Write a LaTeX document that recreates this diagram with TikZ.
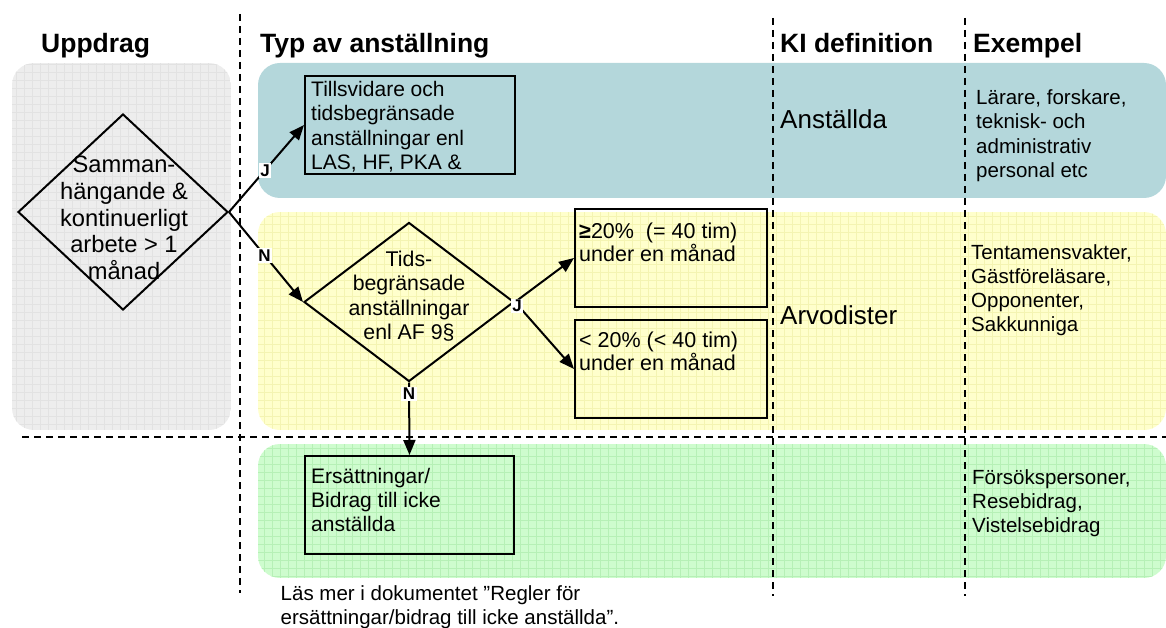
\documentclass[tikz,border=0pt]{standalone}
\usepackage{fontspec}
\setmainfont{Liberation Sans}
\usetikzlibrary{arrows.meta,positioning,shapes.geometric}
\definecolor{bandgray}{RGB}{237,237,237}
\definecolor{gridgray}{RGB}{226,226,226}
\definecolor{bandteal}{RGB}{180,215,219}
\definecolor{bandyellow}{RGB}{255,255,204}
\definecolor{gridyellow}{RGB}{244,244,178}
\definecolor{bandgreen}{RGB}{206,252,206}
\definecolor{gridgreen}{RGB}{182,240,182}
\tikzset{
  heading/.style = {font=\fontsize{26.5}{30}\selectfont\bfseries, anchor=base west, inner sep=0pt},
  category/.style = {font=\fontsize{26}{30}\selectfont, anchor=base west, inner sep=0pt},
  examples/.style = {font=\fontsize{20.5}{24.5}\selectfont, align=left, anchor=north west, inner sep=0pt},
  band/.style = {rounded corners=22pt},
  gridlines/.style = {step=8pt, line width=0.4pt},
  divider/.style = {dash pattern=on 7pt off 5pt, line width=1.6pt},
  decision/.style = {diamond, draw=black, line width=2pt, inner sep=0pt},
  decisiontext/.style = {align=center, inner sep=0pt},
  rulebox/.style = {rectangle, draw=black, line width=2pt, inner sep=0pt, minimum height=98pt},
  boxtext/.style = {font=\fontsize{21}{24.5}\selectfont, align=left, inner sep=0pt},
  flow/.style = {-{Triangle[length=15pt,width=12pt]}, line width=2pt},
  answer/.style = {fill=white, font=\fontsize{17}{17}\selectfont\bfseries, inner sep=1.5pt},
}
\begin{document}
\begin{tikzpicture}[x=1pt, y=-1pt]
  \useasboundingbox (0,0) rectangle (1166,628);

  % Background bands
  \fill[band, bandteal] (258,63) rectangle (1166,198);
  \foreach \xa/\ya/\xb/\yb/\bandcol/\gridcol in {12/63/231/430/bandgray/gridgray,
      258/212/1166/430/bandyellow/gridyellow, 258/444/1166/578/bandgreen/gridgreen}{
    \begin{scope}
      \clip[band] (\xa,\ya) rectangle (\xb,\yb);
      \fill[\bandcol] (\xa,\ya) rectangle (\xb,\yb);
      \draw[gridlines, \gridcol] (\xa,\ya) grid (\xb,\yb);
    \end{scope}
  }

  % Column and row dividers
  \draw[divider] (240,14) -- (240,593);
  \draw[divider] (773,18) -- (773,596);
  \draw[divider] (965,18) -- (965,596);
  \draw[divider] (22,437) -- (1166,437);

  % Headings
  \node[heading] (hUppdrag) at (41,53) {Uppdrag};
  \node[heading] (hTyp) at (260,53) {Typ av anställning};
  \node[heading] (hKI) at (780,53) {KI definition};
  \node[heading] (hExempel) at (973,53) {Exempel};

  % KI definitions
  \node[category] (anstallda) at (780,129) {Anställda};
  \node[category] (arvodister) at (780,324) {Arvodister};

  % Examples
  \node[examples] (exAnst) at (976,89) {Lärare, forskare,\\teknisk- och\\administrativ\\personal etc};
  \node[examples, font=\fontsize{20.5}{24}\selectfont] (exArvod) at (971,244) {Tentamensvakter,\\Gästföreläsare,\\Opponenter,\\Sakkunniga};
  \node[examples, font=\fontsize{20.5}{24}\selectfont] (exErs) at (972,469) {Försökspersoner,\\Resebidrag,\\Vistelsebidrag};

  % Decisions and outcomes
  \node[decision, minimum width=210pt, minimum height=196pt] (samman) at (123,212) {};
  \node[decisiontext, font=\fontsize{23.7}{26.7}\selectfont] (sammanText) at ([xshift=1pt, yshift=-6pt]samman.center)
    {Samman-\\hängande \&\\kontinuerligt\\arbete > 1\\månad};

  \node[rulebox, minimum width=210pt] (tillsvid) at (410,125) {};
  \node[boxtext, below right=6pt and 7pt of tillsvid.north west] (tillsvidText)
    {Tillsvidare och\\tidsbegränsade\\anställningar enl\\LAS, HF, PKA \&};

  \node[decision, minimum width=210pt, minimum height=159pt] (tids) at (409,302) {};
  \node[decisiontext, font=\fontsize{21.3}{24.4}\selectfont] (tidsText) at ([yshift=6pt]tids.center)
    {Tids-\\begränsade\\anställningar\\enl AF 9§};

  \node[rulebox, minimum width=192pt] (over) at (671,258) {};
  \node[boxtext, font=\fontsize{21.5}{23}\selectfont, below right=15pt and 5pt of over.north west] (overText)
    {\textbf{≥}20\%\ \ (= 40 tim)\\under en månad};
  \node[rulebox, minimum width=192pt] (under) at (671,369) {};
  \node[boxtext, font=\fontsize{21.5}{23}\selectfont, below right=13pt and 5pt of under.north west] (underText)
    {< 20\% (< 40 tim)\\under en månad};

  \node[rulebox, minimum width=209pt] (ersatt) at (409.5,505) {};
  \node[boxtext, font=\fontsize{21}{24}\selectfont, below right=13pt and 7pt of ersatt.north west] (ersattText)
    {Ersättningar/\\Bidrag till icke\\anställda};

  % Answers
  \draw[flow] (samman.east) -- node[answer, pos=0.48] (sammanJ) {J} (tillsvid.west);
  \draw[flow] (samman.east) -- node[answer, pos=0.48] (sammanN) {N} (tids.west);
  \draw[flow] (tids.east) -- (over.west);
  \draw[flow] (tids.east) -- (under.west);
  \node[answer] (tidsJ) at ([xshift=2pt, yshift=-4pt]tids.east) {J};
  \draw[flow] (tids.south) -- node[answer, pos=0.16] (tidsN) {N} (ersatt.north);

  % Note
  \node[examples] (note) at (280.5,585) {Läs mer i dokumentet ”Regler för\\ersättningar/bidrag till icke anställda”.};
\end{tikzpicture}
\end{document}
